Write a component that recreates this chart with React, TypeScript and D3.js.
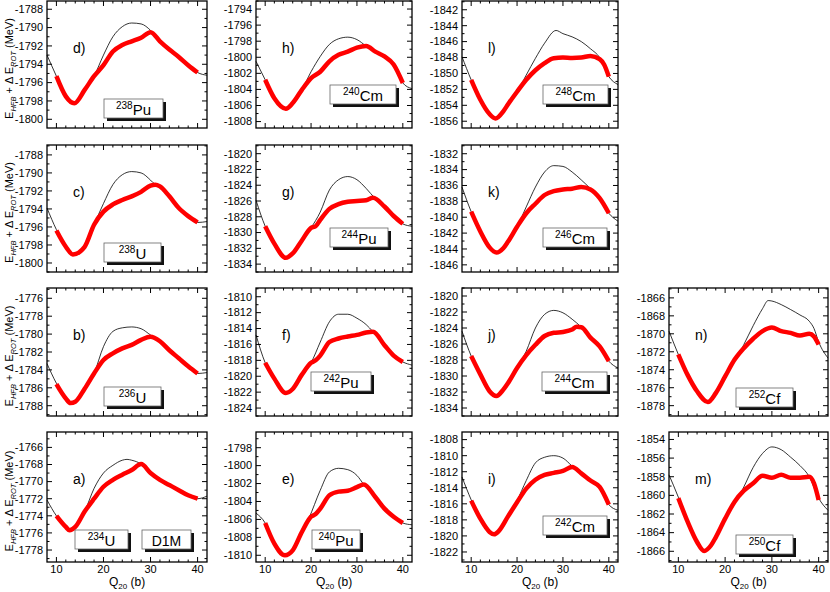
import React, { useEffect, useRef } from "react";
import * as d3 from "d3";

type Pt = [number, number];

// shared deformation axis, Q20 (b)
const qDomain: [number, number] = [8, 42];
const qLabels = [10, 20, 30, 40];

// [Q20 (b), E (MeV)]; thin = black line, thick = red line
const u234Thin: Pt[] = [[8, -1772.15], [10, -1774.0], [12, -1775.3], [12.8, -1775.7], [14, -1775.3], [16, -1773.5], [18, -1770.8], [20, -1769.0], [22, -1768.1], [24, -1767.5], [25, -1767.4], [26, -1767.5], [28, -1767.95], [30, -1769.0], [32, -1769.8], [34, -1770.4], [36, -1771.0], [38, -1771.6], [40, -1772.0], [42, -1771.7]];
const u234Thick: Pt[] = [[10, -1774.0], [12, -1775.3], [12.8, -1775.7], [14, -1775.3], [16, -1773.5], [18, -1772.0], [20, -1770.6], [22, -1769.8], [24, -1769.2], [26, -1768.65], [28, -1767.95], [30, -1769.0], [32, -1769.8], [34, -1770.4], [36, -1771.0], [38, -1771.6], [40, -1772.0]];

const u236Thin: Pt[] = [[8, -1783.3], [10, -1785.5], [12, -1787.2], [13, -1787.7], [14, -1787.55], [16, -1786.1], [18, -1784.4], [20, -1781.4], [22, -1779.7], [24, -1779.3], [26, -1779.2], [28, -1779.4], [30, -1780.1], [32, -1780.8], [34, -1781.8], [36, -1782.7], [38, -1783.6], [40, -1784.4], [42, -1784.3]];
const u236Thick: Pt[] = [[10, -1785.6], [12, -1787.2], [13, -1787.7], [14, -1787.55], [16, -1786.1], [18, -1784.4], [20, -1782.9], [22, -1782.15], [24, -1781.6], [26, -1781.2], [28, -1780.65], [30, -1780.3], [32, -1780.8], [34, -1781.8], [36, -1782.7], [38, -1783.6], [40, -1784.4]];

const u238Thin: Pt[] = [[8, -1793.9], [10, -1796.3], [12, -1798.2], [13.5, -1799.05], [16, -1798.2], [18, -1795.75], [20, -1793.4], [22, -1791.3], [24, -1790.2], [26, -1789.85], [28, -1790.0], [30, -1790.8], [31, -1791.3], [32, -1791.5], [34, -1792.6], [36, -1793.9], [38, -1794.8], [40, -1795.5], [42, -1795.4]];
const u238Thick: Pt[] = [[10, -1796.4], [12, -1798.2], [13.5, -1799.05], [16, -1798.2], [18, -1795.75], [20, -1794.3], [22, -1793.5], [24, -1793.0], [26, -1792.6], [28, -1792.1], [30, -1791.4], [31, -1791.3], [32, -1791.5], [34, -1792.6], [36, -1793.9], [38, -1794.8], [40, -1795.5]];

const pu238Thin: Pt[] = [[8, -1793.0], [10, -1795.3], [12, -1797.5], [13.8, -1798.25], [16, -1796.8], [18, -1795.3], [20, -1793.0], [22, -1791.0], [24, -1789.9], [26, -1789.5], [28, -1789.6], [30, -1790.3], [32, -1791.5], [34, -1792.4], [36, -1793.2], [38, -1794.1], [40, -1794.9], [42, -1795.2]];
const pu238Thick: Pt[] = [[10, -1795.3], [12, -1797.5], [13.8, -1798.25], [16, -1796.8], [18, -1795.3], [20, -1794.1], [22, -1792.6], [24, -1791.9], [26, -1791.5], [28, -1791.1], [30, -1790.5], [32, -1791.5], [34, -1792.4], [36, -1793.2], [38, -1794.1], [40, -1794.9]];

const pu240Thin: Pt[] = [[8, -1805.3], [10, -1806.4], [12, -1808.7], [14.3, -1810.0], [16, -1809.45], [18, -1807.4], [19.5, -1805.9], [22, -1802.75], [24, -1800.7], [26, -1800.3], [28, -1800.45], [30, -1801.1], [31.5, -1802.1], [34, -1803.5], [36, -1804.8], [38, -1805.7], [40, -1806.4], [42, -1806.6]];
const pu240Thick: Pt[] = [[10, -1806.4], [12, -1808.7], [14.3, -1810.0], [16, -1809.45], [18, -1807.4], [20, -1805.7], [21, -1805.4], [22, -1804.8], [24, -1803.3], [26, -1802.9], [28, -1802.8], [30, -1802.4], [31.5, -1802.1], [34, -1803.5], [36, -1804.8], [38, -1805.7], [40, -1806.4]];

const pu242Thin: Pt[] = [[8, -1814.8], [10, -1818.3], [12, -1820.3], [14.5, -1822.1], [16, -1821.6], [18, -1819.8], [20, -1818.3], [22, -1815.7], [24, -1813.15], [26, -1812.2], [28, -1812.2], [30, -1812.7], [32, -1813.5], [33.5, -1814.4], [36, -1816.1], [38, -1817.4], [40, -1818.2], [42, -1818.6]];
const pu242Thick: Pt[] = [[10, -1818.3], [12, -1820.3], [14.5, -1822.1], [16, -1821.6], [18, -1819.8], [20, -1818.3], [21, -1818.0], [22, -1817.4], [24, -1815.7], [26, -1815.25], [28, -1815.0], [30, -1814.8], [32, -1814.5], [33.5, -1814.4], [36, -1816.1], [38, -1817.4], [40, -1818.2]];

const pu244Thin: Pt[] = [[8, -1825.9], [10, -1829.2], [12, -1831.4], [14.5, -1833.2], [16, -1832.65], [18, -1831.0], [20, -1829.4], [22, -1827.4], [24, -1824.6], [26, -1823.3], [28, -1822.9], [30, -1823.3], [32, -1824.4], [34, -1825.7], [36, -1826.7], [38, -1827.9], [40, -1828.9], [42, -1829.2]];
const pu244Thick: Pt[] = [[10, -1829.2], [12, -1831.4], [14.5, -1833.2], [16, -1832.65], [18, -1831.0], [20, -1829.4], [21, -1829.2], [22, -1828.4], [24, -1827.0], [26, -1826.4], [28, -1826.1], [30, -1826.0], [32, -1825.9], [33.5, -1825.6], [36, -1826.7], [38, -1827.9], [40, -1828.9]];

const cm240Thin: Pt[] = [[8, -1800.5], [10, -1802.8], [12, -1805.1], [14.5, -1806.4], [16, -1805.7], [18, -1804.05], [20, -1801.8], [22, -1799.9], [24, -1798.4], [26, -1797.7], [28, -1797.5], [30, -1797.8], [32, -1798.6], [34, -1799.3], [36, -1799.9], [38, -1800.9], [40, -1803.2], [42, -1803.9]];
const cm240Thick: Pt[] = [[10, -1802.8], [12, -1805.1], [14.5, -1806.4], [16, -1805.7], [18, -1804.05], [20, -1802.6], [22, -1801.8], [24, -1800.5], [26, -1799.7], [28, -1799.3], [30, -1798.8], [32, -1798.6], [34, -1799.3], [36, -1799.9], [38, -1800.9], [40, -1803.2]];

const cm242Thin: Pt[] = [[8, -1812.65], [10, -1815.5], [12, -1817.85], [14, -1819.5], [15, -1819.8], [16, -1819.4], [18, -1817.6], [20, -1815.6], [22, -1813.1], [24, -1810.9], [26, -1810.2], [28, -1810.0], [30, -1810.3], [32, -1811.3], [34, -1812.2], [36, -1813.1], [38, -1813.9], [40, -1816.1], [42, -1816.8]];
const cm242Thick: Pt[] = [[10, -1815.6], [12, -1817.85], [14, -1819.5], [15, -1819.8], [16, -1819.4], [18, -1817.6], [20, -1815.8], [22, -1814.1], [24, -1813.0], [26, -1812.4], [28, -1812.15], [30, -1811.9], [32, -1811.4], [34, -1812.2], [36, -1813.1], [38, -1813.9], [40, -1816.1]];

const cm244Thin: Pt[] = [[8, -1824.4], [10, -1827.5], [12, -1829.8], [14, -1831.9], [15.5, -1832.5], [17, -1831.7], [18, -1830.9], [20, -1829.0], [22, -1826.9], [24, -1824.0], [26, -1822.3], [28, -1821.8], [30, -1822.1], [32, -1822.9], [34, -1823.9], [36, -1825.2], [38, -1826.3], [40, -1828.15], [42, -1829.0]];
const cm244Thick: Pt[] = [[10, -1827.5], [12, -1829.8], [14, -1831.9], [15.5, -1832.5], [17, -1831.7], [18, -1830.9], [20, -1829.0], [22, -1827.4], [24, -1826.1], [26, -1825.0], [28, -1824.6], [30, -1824.5], [32, -1824.2], [33, -1823.85], [34, -1823.9], [36, -1825.2], [38, -1826.3], [40, -1828.15]];

const cm246Thin: Pt[] = [[8, -1836.2], [10, -1839.3], [12, -1841.8], [14, -1843.8], [15.5, -1844.45], [17, -1843.9], [18, -1843.1], [20, -1841.2], [22, -1838.7], [24, -1836.2], [26, -1834.3], [28, -1833.5], [30, -1833.6], [32, -1834.3], [34, -1835.3], [36, -1836.4], [38, -1837.6], [40, -1839.5], [42, -1840.5]];
const cm246Thick: Pt[] = [[10, -1839.3], [12, -1841.8], [14, -1843.8], [15.5, -1844.45], [17, -1843.9], [18, -1843.1], [20, -1841.2], [22, -1839.5], [24, -1838.3], [26, -1837.2], [28, -1836.7], [30, -1836.5], [32, -1836.4], [34, -1836.2], [36, -1836.5], [38, -1837.6], [40, -1839.5]];

const cm248Thin: Pt[] = [[8, -1847.9], [10, -1850.8], [12, -1853.3], [14, -1855.1], [15.3, -1855.65], [17, -1854.75], [18, -1853.9], [20, -1852.3], [22, -1850.2], [24, -1848.1], [26, -1846.2], [28.5, -1844.6], [30, -1845.0], [32, -1845.4], [34, -1846.0], [36, -1846.9], [38, -1848.0], [40, -1850.4], [42, -1851.4]];
const cm248Thick: Pt[] = [[10, -1850.8], [12, -1853.3], [14, -1855.1], [15.3, -1855.65], [17, -1854.75], [18, -1853.9], [20, -1852.3], [22, -1850.8], [24, -1849.6], [26, -1848.7], [28, -1848.1], [30, -1848.0], [32, -1848.05], [34, -1848.0], [36, -1847.8], [38, -1848.2], [39, -1848.9], [40, -1850.4]];

const cf250Thin: Pt[] = [[8, -1857.8], [10, -1860.2], [12, -1862.85], [14, -1865.0], [15.5, -1865.96], [17, -1865.35], [18, -1864.5], [20, -1862.5], [22, -1860.7], [23.3, -1859.8], [24, -1859.1], [26, -1857.0], [28, -1855.5], [30, -1854.8], [32, -1855.1], [34, -1855.9], [36, -1856.8], [38, -1858.0], [40, -1860.3], [42, -1861.6]];
const cf250Thick: Pt[] = [[10, -1860.3], [12, -1862.85], [14, -1865.0], [15.5, -1865.96], [17, -1865.35], [18, -1864.5], [20, -1862.5], [22, -1860.7], [24, -1859.5], [26, -1858.7], [28, -1857.9], [30, -1858.1], [32, -1857.8], [34, -1858.1], [36, -1858.1], [38, -1858.0], [39, -1858.7], [40, -1860.5]];

const cf252Thin: Pt[] = [[8, -1869.7], [10, -1872.3], [12, -1874.6], [14, -1876.4], [16.3, -1877.6], [18, -1876.6], [20, -1874.75], [22, -1872.9], [23, -1872.2], [24, -1871.2], [26, -1869.1], [28, -1867.2], [29.2, -1866.3], [30, -1866.35], [32, -1866.75], [34, -1867.3], [36, -1867.9], [38, -1868.6], [39, -1869.4], [40, -1870.9], [42, -1872.7]];
const cf252Thick: Pt[] = [[10, -1872.3], [12, -1874.6], [14, -1876.4], [16.3, -1877.6], [18, -1876.6], [20, -1874.75], [22, -1872.9], [24, -1871.6], [26, -1870.55], [28, -1869.7], [30, -1869.3], [32, -1869.7], [34, -1869.9], [36, -1870.2], [38, -1870.0], [39, -1870.3], [40, -1871.2]];

// panel list: letter, nucleus, curves, energy window and labelled tick range
const panels = [
  { id: "a)", mass: "234", el: "U", thin: u234Thin, thick: u234Thick, yRange: [-1779.4, -1764.2], yLab: [-1778, -1766] },
  { id: "b)", mass: "236", el: "U", thin: u236Thin, thick: u236Thick, yRange: [-1789.15, -1774.85], yLab: [-1788, -1776] },
  { id: "c)", mass: "238", el: "U", thin: u238Thin, thick: u238Thick, yRange: [-1801, -1786.9], yLab: [-1800, -1788] },
  { id: "d)", mass: "238", el: "Pu", thin: pu238Thin, thick: pu238Thick, yRange: [-1800.95, -1787.1], yLab: [-1800, -1788] },
  { id: "e)", mass: "240", el: "Pu", thin: pu240Thin, thick: pu240Thick, yRange: [-1810.75, -1796.25], yLab: [-1810, -1798] },
  { id: "f)", mass: "242", el: "Pu", thin: pu242Thin, thick: pu242Thick, yRange: [-1825, -1808.9], yLab: [-1824, -1810] },
  { id: "g)", mass: "244", el: "Pu", thin: pu244Thin, thick: pu244Thick, yRange: [-1835, -1818.9], yLab: [-1834, -1820] },
  { id: "h)", mass: "240", el: "Cm", thin: cm240Thin, thick: cm240Thick, yRange: [-1808.8, -1793], yLab: [-1808, -1794] },
  { id: "i)", mass: "242", el: "Cm", thin: cm242Thin, thick: cm242Thick, yRange: [-1823.25, -1807.05], yLab: [-1822, -1808] },
  { id: "j)", mass: "244", el: "Cm", thin: cm244Thin, thick: cm244Thick, yRange: [-1835, -1819], yLab: [-1834, -1820] },
  { id: "k)", mass: "246", el: "Cm", thin: cm246Thin, thick: cm246Thick, yRange: [-1846.9, -1830.9], yLab: [-1846, -1832] },
  { id: "l)", mass: "248", el: "Cm", thin: cm248Thin, thick: cm248Thick, yRange: [-1856.85, -1840.9], yLab: [-1856, -1842] },
  { id: "m)", mass: "250", el: "Cf", thin: cf250Thin, thick: cf250Thick, yRange: [-1867.15, -1853.2], yLab: [-1866, -1854] },
  { id: "n)", mass: "252", el: "Cf", thin: cf252Thin, thick: cf252Thick, yRange: [-1879.15, -1864.9], yLab: [-1878, -1866] },
];

// page layout (pixels)
const colSpan = [[47, 207], [256, 412], [462, 618], [669, 828]];
const rowSpan = [[1, 128], [145, 272], [288, 416], [432, 562]];
const slots: Record<string, { col: number; row: number; box: number[] }> = {
  "a)": { col: 0, row: 3, box: [75, 530, 53] },
  "b)": { col: 0, row: 2, box: [104, 387, 57] },
  "c)": { col: 0, row: 1, box: [104, 243, 57] },
  "d)": { col: 0, row: 0, box: [104, 99, 59] },
  "e)": { col: 1, row: 3, box: [312, 530, 48] },
  "f)": { col: 1, row: 2, box: [311, 372, 60] },
  "g)": { col: 1, row: 1, box: [330, 228, 58] },
  "h)": { col: 1, row: 0, box: [330, 85, 66] },
  "i)": { col: 2, row: 3, box: [543, 516, 64] },
  "j)": { col: 2, row: 2, box: [542, 372, 65] },
  "k)": { col: 2, row: 1, box: [543, 228, 64] },
  "l)": { col: 2, row: 0, box: [543, 85, 65] },
  "m)": { col: 3, row: 3, box: [736, 535, 57] },
  "n)": { col: 3, row: 2, box: [736, 388, 57] },
};

const FONT = "'Liberation Sans', Arial, Helvetica, sans-serif";

function drawBox(g: any, bx: number, by: number, bw: number, parts: [string, number, number][]) {
    const bh = 19;
    g.append("rect").attr("x", bx + 3).attr("y", by + 3).attr("width", bw).attr("height", bh).attr("fill", "#111");
    g.append("rect").attr("x", bx).attr("y", by).attr("width", bw).attr("height", bh)
        .attr("fill", "#fff").attr("stroke", "#666").attr("stroke-width", 0.8);
    const t = g.append("text").attr("x", bx + bw / 2).attr("y", by + 16).attr("text-anchor", "middle");
    parts.forEach(([s, size, dy]) => t.append("tspan").attr("font-size", size).attr("dy", dy).text(s));
}

export default function App() {
    const svgRef = useRef<SVGSVGElement>(null);

    useEffect(() => {
        const svg = d3.select(svgRef.current);
        svg.selectAll("*").remove();
        svg.attr("font-family", FONT);

        panels.forEach((p) => {
            const slot = slots[p.id];
            const [x0, x1] = colSpan[slot.col];
            const [y0, y1] = rowSpan[slot.row];
            const x = d3.scaleLinear().domain(qDomain).range([x0, x1]);
            const y = d3.scaleLinear().domain(p.yRange).range([y1, y0]);
            const g = svg.append("g");

            const line = d3.line<Pt>().x(d => x(d[0])).y(d => y(d[1])).curve(d3.curveMonotoneX);
            g.append("path").attr("d", line(p.thin)).attr("fill", "none").attr("stroke", "#000").attr("stroke-width", 0.8);
            g.append("path").attr("d", line(p.thick)).attr("fill", "none").attr("stroke", "#ff0000").attr("stroke-width", 4.5);

            // frame
            g.append("rect").attr("x", x0).attr("y", y0).attr("width", x1 - x0).attr("height", y1 - y0)
                .attr("fill", "none").attr("stroke", "#000").attr("stroke-width", 1.3);

            // y ticks, mirrored on both sides
            const ey = d3.range(Math.ceil(p.yRange[0]), Math.floor(p.yRange[1]) + 1);
            ey.forEach(v => {
                const len = Math.abs(v) % 2 === 0 ? 5 : 2.5;
                g.append("line").attr("x1", x0).attr("x2", x0 + len).attr("y1", y(v)).attr("y2", y(v)).attr("stroke", "#000");
                g.append("line").attr("x1", x1).attr("x2", x1 - len).attr("y1", y(v)).attr("y2", y(v)).attr("stroke", "#000");
            });
            d3.range(p.yLab[0], p.yLab[1] + 1, 2).forEach(v => {
                g.append("text").attr("x", x0 - 4).attr("y", y(v)).attr("dy", "0.35em")
                    .attr("text-anchor", "end").attr("font-size", 11).text(String(v));
            });

            // x ticks
            d3.range(10, 41, 2).forEach(v => {
                const len = v % 10 === 0 ? 5 : 2.5;
                g.append("line").attr("x1", x(v)).attr("x2", x(v)).attr("y1", y1).attr("y2", y1 - len).attr("stroke", "#000");
                g.append("line").attr("x1", x(v)).attr("x2", x(v)).attr("y1", y0).attr("y2", y0 + len).attr("stroke", "#000");
            });

            // panel letter
            g.append("text").attr("x", x0 + 26).attr("y", y0 + 52).attr("font-size", 14).text(p.id);

            // nucleus box
            const [bx, by, bw] = slot.box;
            drawBox(g, bx, by, bw, [[p.mass, 10, -6], [p.el, 15, 6]]);
            if (p.id === "a)") drawBox(g, 142, 530, 49, [["D1M", 14, 0]]);

            // bottom row carries the Q20 axis
            if (slot.row === 3) {
                qLabels.forEach(v => {
                    g.append("text").attr("x", x(v)).attr("y", 573).attr("text-anchor", "middle").attr("font-size", 11).text(String(v));
                });
                const t = g.append("text").attr("x", (x0 + x1) / 2).attr("y", 586).attr("text-anchor", "middle").attr("font-size", 12);
                t.append("tspan").text("Q");
                t.append("tspan").attr("font-size", 8).attr("dy", 3).text("20");
                t.append("tspan").attr("dy", -3).text(" (b)");
            }

            // left column carries the energy title
            if (slot.col === 0) {
                const t = svg.append("text").attr("transform", `translate(12.5,${(y0 + y1) / 2 + 4}) rotate(-90)`)
                    .attr("text-anchor", "middle").attr("font-size", 11);
                t.append("tspan").text("E");
                t.append("tspan").attr("font-size", 7.5).attr("font-style", "italic").attr("dy", 3).text("HFB");
                t.append("tspan").attr("dy", -3).text(" + \u0394 E");
                t.append("tspan").attr("font-size", 7.5).attr("font-style", "italic").attr("dy", 3).text("ROT");
                t.append("tspan").attr("dy", -3).text(" (MeV)");
            }
        });
    }, []);

    return (
        <svg ref={svgRef} width={830} height={592} style={{ position: "absolute", left: 0, top: 0, background: "#fff" }} />
    );
}
